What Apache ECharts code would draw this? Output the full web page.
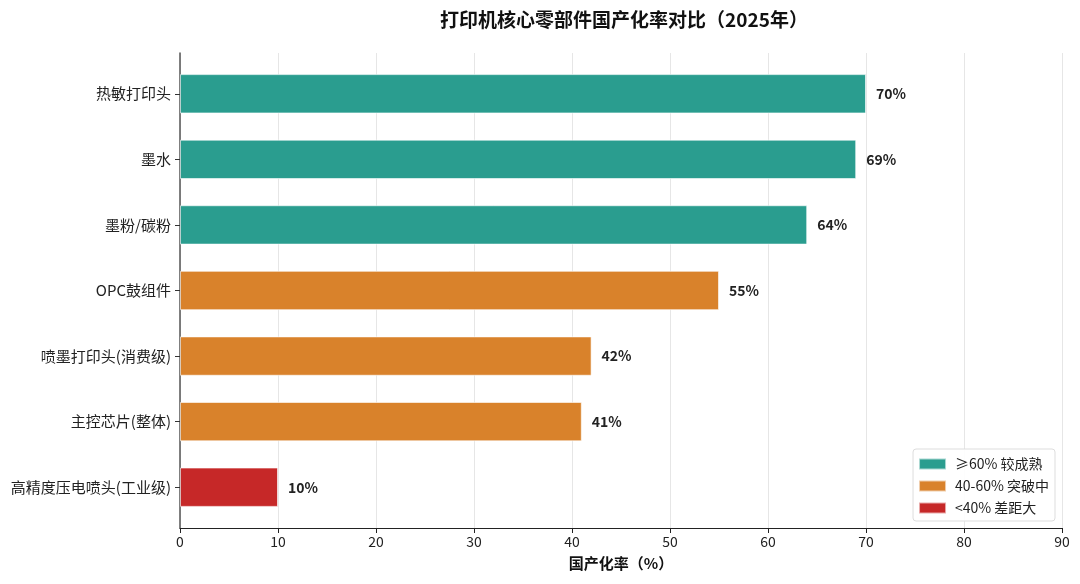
<!DOCTYPE html>
<html>
<head>
<meta charset="utf-8">
<script src="https://cdn.jsdelivr.net/npm/echarts@6/dist/echarts.min.js"></script>
<style>
  html, body { margin: 0; padding: 0; background: #fff; }
  #main { width: 1080px; height: 584px; }
</style>
</head>
<body>
<div id="main"></div>
<script>
var FONT = '"Noto Sans CJK SC", "Noto Sans", sans-serif';

// 部件（从上到下）
var parts = ['热敏打印头', '墨水', '墨粉/碳粉', 'OPC鼓组件', '喷墨打印头(消费级)', '主控芯片(整体)', '高精度压电喷头(工业级)'];
var rates = [70, 69, 64, 55, 42, 41, 10];
var xTicks = [0, 10, 20, 30, 40, 50, 60, 70, 80, 90];

var levelNames = ['≥60% 较成熟', '40-60% 突破中', '<40% 差距大'];
var levelColors = ['#2a9d8f', '#d9822b', '#c62828'];

function levelOf(v) {
    if (v >= 60) return 0;
    if (v >= 40) return 1;
    return 2;
}

// 按档位拆成三个系列，方便图例
var seriesData = [[], [], []];
for (var i = 0; i < rates.length; i++) {
    for (var k = 0; k < 3; k++) {
        seriesData[k].push(levelOf(rates[i]) === k ? rates[i] : '-');
    }
}

var chart = echarts.init(document.getElementById('main'));

var series = [];
for (var k = 0; k < 3; k++) {
    series.push({
        name: levelNames[k],
        type: 'bar',
        xAxisIndex: 1,
        yAxisIndex: 1,
        stack: 'all',
        barWidth: '60%',
        data: seriesData[k],
        itemStyle: {
            color: levelColors[k],
            borderColor: 'rgba(255,255,255,0.6)',
            borderWidth: 1
        },
        label: {
            show: true,
            position: 'right',
            distance: 10,
            formatter: '{c}%',
            fontFamily: FONT,
            fontWeight: 'bold',
            fontSize: 14,
            color: '#222'
        }
    });
}

var option = {
    backgroundColor: '#fff',
    animation: false,
    title: {
        text: '打印机核心零部件国产化率对比（2025年）',
        left: 619,
        textAlign: 'center',
        top: 5,
        textStyle: { fontFamily: FONT, fontSize: 19, fontWeight: 'bold', color: '#111' }
    },
    legend: {
        data: levelNames,
        orient: 'vertical',
        right: 25,
        bottom: 63,
        icon: 'rect',
        itemWidth: 27,
        itemHeight: 11,
        itemGap: 8,
        padding: [8, 6, 6, 5],
        borderColor: '#ddd',
        borderWidth: 1,
        borderRadius: 3,
        backgroundColor: 'rgba(255,255,255,0.9)',
        textStyle: { fontFamily: FONT, fontSize: 14, color: '#222', padding: [0, 0, 0, 4] }
    },
    grid: [
        { left: 180, right: 18, top: 53, bottom: 56 },
        { left: 180, right: 18, top: 61, bottom: 64 }
    ],
    xAxis: [{
        gridIndex: 0,
        type: 'value',
        min: xTicks[0],
        max: xTicks[xTicks.length - 1],
        interval: 10,
        name: '国产化率（%）',
        nameLocation: 'middle',
        nameGap: 28,
        nameTextStyle: { fontFamily: FONT, fontSize: 15, fontWeight: 'bold', color: '#111' },
        axisLine: { show: true, lineStyle: { color: '#222', width: 1.2 } },
        axisTick: { show: true, length: 5, lineStyle: { color: '#222' } },
        axisLabel: { fontFamily: FONT, fontSize: 14, color: '#222', margin: 7 },
        splitLine: { show: true, lineStyle: { color: '#e6e6e6', width: 1 } }
    }, {
        gridIndex: 1,
        type: 'value',
        min: xTicks[0],
        max: xTicks[xTicks.length - 1],
        show: false,
        splitLine: { show: false }
    }],
    yAxis: [{
        gridIndex: 0,
        type: 'value',
        min: 0,
        max: 1,
        axisLine: { show: true, lineStyle: { color: '#555', width: 1.5 } },
        axisTick: { show: false },
        axisLabel: { show: false },
        splitLine: { show: false }
    }, {
        gridIndex: 1,
        type: 'category',
        inverse: true,
        data: parts,
        axisLine: { show: false },
        axisTick: { show: true, alignWithLabel: true, length: 5, lineStyle: { color: '#333' } },
        axisLabel: { fontFamily: FONT, fontSize: 15, color: '#222', margin: 9 },
        splitLine: { show: false }
    }],
    series: series
};

chart.setOption(option);
</script>
</body>
</html>
